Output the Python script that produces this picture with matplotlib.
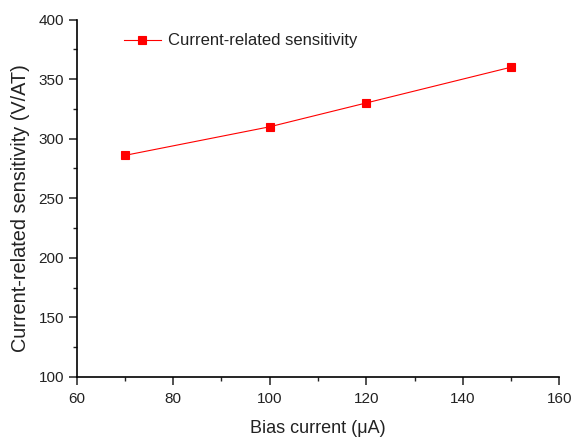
import matplotlib.pyplot as plt
from matplotlib.ticker import MultipleLocator

# data
bias_current = [70, 100, 120, 150]
sensitivity = [286, 310, 330, 360]

plt.rcParams['font.family'] = ['Liberation Sans', 'DejaVu Sans']

fig = plt.figure(figsize=(5.74, 4.37), dpi=100)
ax = fig.add_axes([0.1336, 0.1373, 0.8408, 0.818])

ax.plot(bias_current, sensitivity, color='#ff0000', lw=0.8, marker='s',
        markersize=5.5, markeredgewidth=0.8, label='Current-related sensitivity')

ax.set_xlim(60, 160)
ax.set_ylim(100, 400)
ax.xaxis.set_major_locator(MultipleLocator(20))
ax.xaxis.set_minor_locator(MultipleLocator(10))
ax.yaxis.set_major_locator(MultipleLocator(50))
ax.yaxis.set_minor_locator(MultipleLocator(25))

for s in ['top', 'right']:
    ax.spines[s].set_visible(False)
ax.spines['left'].set_linewidth(1.2)
ax.spines['bottom'].set_linewidth(1.2)
ax.tick_params(which='major', length=5.5, width=1.1, labelsize=11, color='#222222', labelcolor='#222222')
ax.tick_params(axis='x', which='major', pad=5)
ax.tick_params(which='minor', length=3, width=1.0, color='#222222')

ax.set_xlabel('Bias current (μA)', fontsize=13, color='#222222')
ax.set_ylabel('Current-related sensitivity (V/AT)', fontsize=14.3, color='#222222')
ax.xaxis.set_label_coords(0.5, -0.12)
ax.yaxis.set_label_coords(-0.097, 0.472)

ax.legend(loc='center left', bbox_to_anchor=(0.098, 0.94), frameon=False,
          borderaxespad=0, borderpad=0, fontsize=12, handlelength=2.2,
          handletextpad=0.45, labelcolor='#222222')

fig.savefig('out.png', dpi=100)
